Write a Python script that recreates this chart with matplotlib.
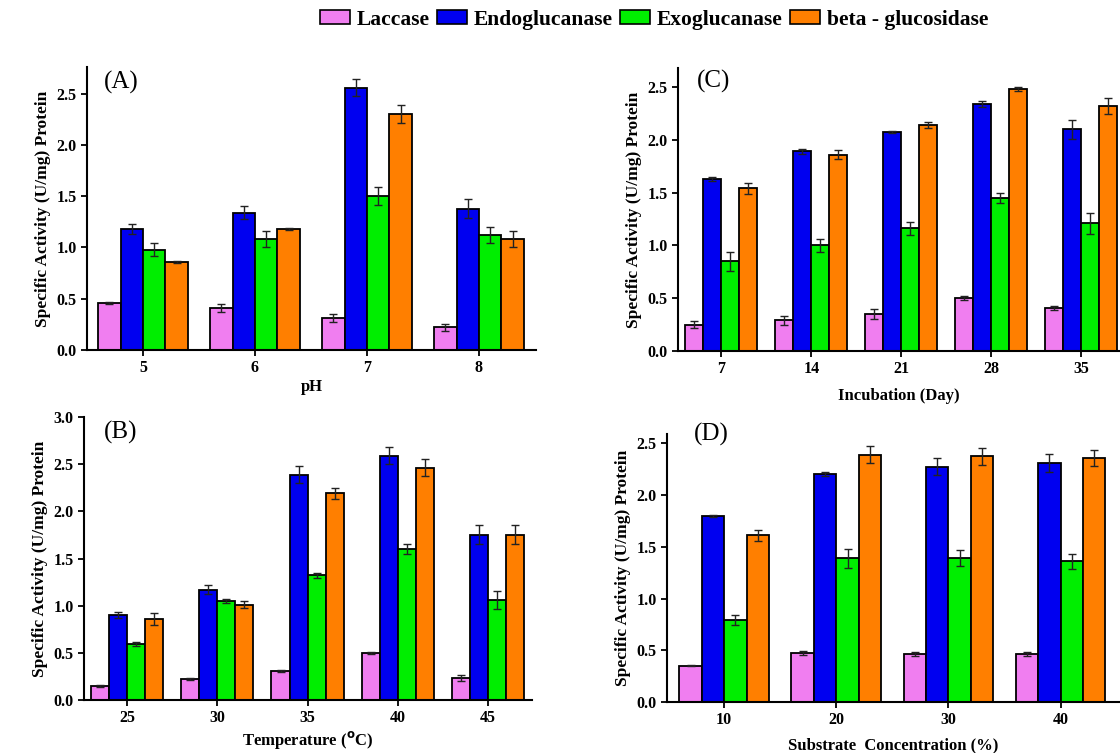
import matplotlib
matplotlib.use('Agg')
import matplotlib.pyplot as plt
from matplotlib.patches import Patch
import numpy as np

plt.rcParams['font.family'] = ['Liberation Serif', 'DejaVu Serif']

enzymes = ['Laccase', 'Endoglucanase', 'Exoglucanase', 'beta - glucosidase']
colors = ['#f07ef0', '#0000f0', '#00ee00', '#ff7f00']

# (A) pH
ph_labels = ['5', '6', '7', '8']
ph_laccase = [0.46, 0.41, 0.31, 0.22]
ph_endo = [1.18, 1.34, 2.56, 1.38]
ph_exo = [0.98, 1.08, 1.50, 1.12]
ph_beta = [0.86, 1.18, 2.30, 1.08]
ph_laccase_err = [0.01, 0.04, 0.04, 0.03]
ph_endo_err = [0.05, 0.06, 0.08, 0.09]
ph_exo_err = [0.06, 0.08, 0.09, 0.08]
ph_beta_err = [0.01, 0.01, 0.09, 0.08]

# (B) temperature
temp_labels = ['25', '30', '35', '40', '45']
temp_laccase = [0.15, 0.22, 0.31, 0.50, 0.23]
temp_endo = [0.90, 1.17, 2.39, 2.59, 1.75]
temp_exo = [0.59, 1.05, 1.32, 1.60, 1.06]
temp_beta = [0.86, 1.01, 2.19, 2.46, 1.75]
temp_laccase_err = [0.01, 0.01, 0.01, 0.01, 0.03]
temp_endo_err = [0.03, 0.05, 0.09, 0.09, 0.10]
temp_exo_err = [0.02, 0.02, 0.03, 0.05, 0.10]
temp_beta_err = [0.06, 0.04, 0.06, 0.09, 0.10]

# (C) incubation
day_labels = ['7', '14', '21', '28', '35']
day_laccase = [0.25, 0.29, 0.35, 0.50, 0.41]
day_endo = [1.63, 1.89, 2.07, 2.34, 2.10]
day_exo = [0.85, 1.00, 1.16, 1.45, 1.21]
day_beta = [1.54, 1.86, 2.14, 2.48, 2.32]
day_laccase_err = [0.03, 0.04, 0.05, 0.02, 0.02]
day_endo_err = [0.02, 0.02, 0.01, 0.03, 0.09]
day_exo_err = [0.09, 0.06, 0.06, 0.05, 0.10]
day_beta_err = [0.05, 0.04, 0.03, 0.02, 0.08]

# (D) substrate concentration
sub_labels = ['10', '20', '30', '40']
sub_laccase = [0.35, 0.47, 0.46, 0.46]
sub_endo = [1.795, 2.205, 2.275, 2.31]
sub_exo = [0.79, 1.39, 1.39, 1.36]
sub_beta = [1.61, 2.39, 2.375, 2.36]
sub_laccase_err = [0.005, 0.02, 0.02, 0.02]
sub_endo_err = [0.01, 0.02, 0.08, 0.09]
sub_exo_err = [0.05, 0.09, 0.08, 0.07]
sub_beta_err = [0.05, 0.08, 0.08, 0.08]

fig = plt.figure(figsize=(11.2, 7.53), dpi=100)

ylabel = 'Specific Activity (U/mg) Protein'


def draw_panel(rect, labels, series, errs, xlim, ylim, yticks, xlabel,
               tag, tag_pos, xlabel_pad=2):
    ax = fig.add_axes(rect)
    x = np.arange(len(labels))
    width = 0.2
    for i, (vals, err) in enumerate(zip(series, errs)):
        ax.bar(x + (i - 1.5) * width, vals, width, yerr=err,
               color=colors[i], edgecolor='black', linewidth=1.3,
               error_kw=dict(ecolor='#222222', elinewidth=1.0,
                             capsize=3, capthick=1.0), zorder=2)
    ax.set_xlim(*xlim)
    ax.set_ylim(*ylim)
    ax.set_xticks(x)
    ax.set_xticklabels(labels)
    ax.set_yticks(yticks)
    ax.set_yticklabels([f'{t:.1f}' for t in yticks])
    for s in ['top', 'right']:
        ax.spines[s].set_visible(False)
    for s in ['left', 'bottom']:
        ax.spines[s].set_linewidth(1.5)
    ax.tick_params(direction='out', length=4, width=1.3, labelsize=11.5)
    for lab in ax.get_xticklabels() + ax.get_yticklabels():
        lab.set_fontweight('bold')
    ax.set_ylabel(ylabel, fontsize=12.5, fontweight='bold')
    ax.set_xlabel(xlabel, fontsize=12, fontweight='bold', labelpad=xlabel_pad)
    ax.text(tag_pos[0], tag_pos[1], tag, transform=ax.transAxes,
            fontsize=18, va='center', ha='left')
    return ax


draw_panel([0.0777, 0.5352, 0.4009, 0.3758], ph_labels,
           [ph_laccase, ph_endo, ph_exo, ph_beta],
           [ph_laccase_err, ph_endo_err, ph_exo_err, ph_beta_err],
           (-0.5, 3.51), (0, 2.76), [0.0, 0.5, 1.0, 1.5, 2.0, 2.5],
           'pH', '(A)', (0.037, 0.947))

draw_panel([0.6054, 0.5339, 0.3946, 0.3758], day_labels,
           [day_laccase, day_endo, day_exo, day_beta],
           [day_laccase_err, day_endo_err, day_exo_err, day_beta_err],
           (-0.48, 4.43), (0, 2.68), [0.0, 0.5, 1.0, 1.5, 2.0, 2.5],
           'Incubation (Day)', '(C)', (0.043, 0.954), xlabel_pad=7.5)

draw_panel([0.075, 0.0704, 0.400, 0.3758], temp_labels,
           [temp_laccase, temp_endo, temp_exo, temp_beta],
           [temp_laccase_err, temp_endo_err, temp_exo_err, temp_beta_err],
           (-0.48, 4.49), (0, 3.0), [0.0, 0.5, 1.0, 1.5, 2.0, 2.5, 3.0],
           r'Temperature ($\mathbf{^{o}}$C)', '(B)', (0.045, 0.947))

draw_panel([0.5955, 0.0677, 0.4045, 0.3559], sub_labels,
           [sub_laccase, sub_endo, sub_exo, sub_beta],
           [sub_laccase_err, sub_endo_err, sub_exo_err, sub_beta_err],
           (-0.51, 3.53), (0, 2.59), [0.0, 0.5, 1.0, 1.5, 2.0, 2.5],
           'Substrate  Concentration (%)', '(D)', (0.06, 0.997), xlabel_pad=6.5)

handles = [Patch(facecolor=c, edgecolor='black', linewidth=1.2) for c in colors]
fig.legend(handles, enzymes, loc='center', bbox_to_anchor=(0.584, 0.974),
           ncol=4, frameon=False, handlelength=1.4, handleheight=0.6,
           handletextpad=0.3, columnspacing=0.35,
           prop={'family': 'Liberation Serif', 'weight': 'bold', 'size': 15.5})

fig.savefig('out.png', dpi=100)
